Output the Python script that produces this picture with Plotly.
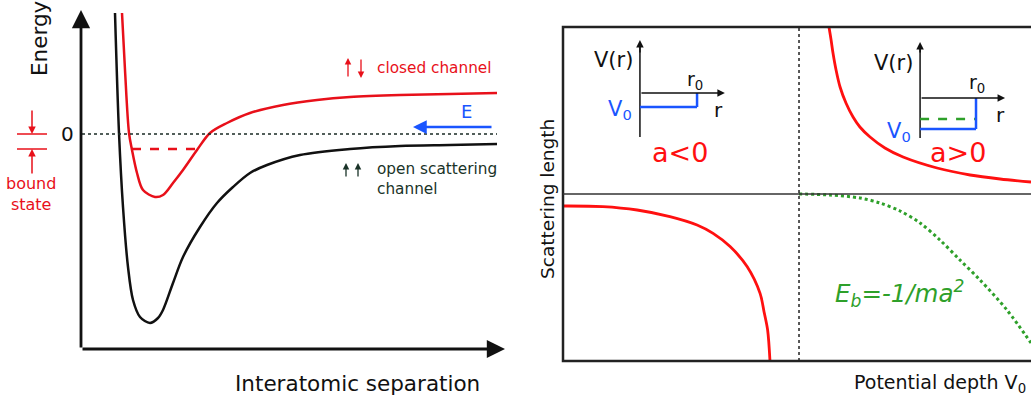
import plotly.graph_objects as go

# ---------------- Left panel data (separation s, energy E; arbitrary units) -------------
open_s = [0.85, 0.95, 1.05, 1.175, 1.3, 1.475, 1.725, 1.925, 2.05, 2.3, 2.55, 2.975, 3.4,
          3.8, 4.225, 4.65, 5.475, 6.725, 7.975, 9.225, 10.4]
open_E = [6.05, 0.05, -3.65, -6.65, -8.3, -9.15, -9.45, -9.2, -8.8, -7.45, -6.15, -4.65, -3.45,
          -2.65, -1.95, -1.55, -1.05, -0.75, -0.6, -0.55, -0.5]

closed_s = [1.025, 1.1, 1.2, 1.275, 1.4, 1.55, 1.85, 2.05, 2.3, 2.55, 2.9, 3.225, 3.65,
            4.225, 5.05, 5.9, 6.725, 7.975, 9.225, 10.4]
closed_E = [6.05, 3.2, 0.05, -0.8, -1.95, -2.8, -3.15, -3.05, -2.45, -1.8, -0.8, 0.05, 0.55,
            1.05, 1.45, 1.7, 1.85, 1.95, 2.0, 2.05]

bound_s = [1.275, 2.9]
bound_E = [-0.75, -0.75]

# ---------------- Right panel data (potential depth d, scattering length a) -------------
aneg_d = [0.0, 0.169, 0.314, 0.453, 0.568, 0.636, 0.708, 0.78, 0.835, 0.852, 0.867, 0.877]
aneg_a = [-0.6, -0.63, -0.8, -1.13, -1.55, -1.97, -2.63, -3.63, -4.97, -5.9, -6.8, -8.35]

apos_d = [1.127, 1.136, 1.144, 1.157, 1.174, 1.199, 1.229, 1.258, 1.301, 1.364, 1.441,
          1.585, 1.725, 1.852, 1.983]
apos_a = [8.35, 7.7, 7.05, 6.2, 5.35, 4.55, 3.85, 3.35, 2.85, 2.3, 1.85,
          1.3, 0.95, 0.75, 0.6]

eb_d = [1.0, 1.131, 1.258, 1.343, 1.428, 1.513, 1.597, 1.682, 1.767, 1.881, 1.983]
eb_a = [0.0, -0.05, -0.2, -0.45, -0.85, -1.45, -2.3, -3.3, -4.3, -5.8, -7.45]

FONT = "DejaVu Sans"
RED = "#e8101a"
RED2 = "#ff1010"
BLUE = "#1a55ff"
GREEN = "#2ea02a"
DARK = "#1a3328"

fig = go.Figure()

# left traces
fig.add_trace(go.Scatter(x=open_s, y=open_E, mode="lines", line=dict(color="#111", width=2.5, shape="spline", smoothing=0.9),
                         xaxis="x", yaxis="y", hoverinfo="skip"))
fig.add_trace(go.Scatter(x=closed_s, y=closed_E, mode="lines", line=dict(color=RED, width=2.5, shape="spline", smoothing=0.9),
                         xaxis="x", yaxis="y", hoverinfo="skip"))
fig.add_trace(go.Scatter(x=bound_s, y=bound_E, mode="lines", line=dict(color=RED, width=2.5, dash="dash"),
                         xaxis="x", yaxis="y", hoverinfo="skip"))

# right traces
fig.add_trace(go.Scatter(x=aneg_d, y=aneg_a, mode="lines", line=dict(color=RED2, width=2.8, shape="spline", smoothing=0.9),
                         xaxis="x2", yaxis="y2", hoverinfo="skip"))
fig.add_trace(go.Scatter(x=apos_d, y=apos_a, mode="lines", line=dict(color=RED2, width=2.8, shape="spline", smoothing=0.9),
                         xaxis="x2", yaxis="y2", hoverinfo="skip"))
fig.add_trace(go.Scatter(x=eb_d, y=eb_a, mode="lines", line=dict(color=GREEN, width=3, dash="dot", shape="spline", smoothing=0.9),
                         xaxis="x2", yaxis="y2", hoverinfo="skip"))

shapes = []
ann = []

def line(x0, y0, x1, y1, ax="", color="#111", width=1.5, dash="solid"):
    shapes.append(dict(type="line", xref="x" + ax, yref="y" + ax, x0=x0, y0=y0, x1=x1, y1=y1,
                       line=dict(color=color, width=width, dash=dash)))

def arrow(xh, yh, xt, yt, ax="", color="#111", width=2.5, size=1.0, head=2):
    ann.append(dict(x=xh, y=yh, ax=xt, ay=yt, xref="x" + ax, yref="y" + ax, axref="x" + ax, ayref="y" + ax,
                    showarrow=True, arrowhead=head, arrowsize=size, arrowwidth=width, arrowcolor=color,
                    standoff=0, startstandoff=0, text=""))

def text(x, y, t, ax="", color="#111", size=14, angle=0, xanchor="center", align="center"):
    ann.append(dict(x=x, y=y, xref="x" + ax, yref="y" + ax, text=t, showarrow=False, textangle=angle,
                    xanchor=xanchor, yanchor="middle", align=align,
                    font=dict(family=FONT, size=size, color=color)))

# ---- left panel decorations ----
line(0.025, 0, 10.4, 0, color="#1a2a24", width=1.4, dash="dot")
arrow(0, 6.2, 0, -10.75, width=2.8, size=1.3)
arrow(10.6, -10.75, 0, -10.75, width=2.8, size=1.3)
line(-1.6, 0, -0.85, 0, color=RED, width=1.5)
line(-1.6, -0.75, -0.85, -0.75, color=RED, width=1.5)
arrow(-1.225, 0, -1.225, 1.25, color=RED, width=1.5, size=1.0)
arrow(-1.225, -0.75, -1.225, -2.05, color=RED, width=1.5, size=1.0)
text(-1.25, -3.0, "bound<br>state", color=RED, size=16)
text(-1.05, 4.8, "Energy", size=21.5, angle=-90)
text(-0.35, 0, "0", size=20)
arrow(6.675, 3.8, 6.675, 2.8, color=RED, width=1.3, size=1.0)
arrow(7.0, 2.8, 7.0, 3.8, color=RED, width=1.3, size=1.0)
text(7.35, 3.3, "closed channel", color=RED, size=15.3, xanchor="left")
arrow(8.3, 0.35, 10.3, 0.35, color=BLUE, width=2.5, size=1.1)
text(9.625, 1.15, "E", color=BLUE, size=18)
arrow(6.625, -1.45, 6.625, -2.2, color=DARK, width=1.3, size=1.0)
arrow(6.925, -1.45, 6.925, -2.2, color=DARK, width=1.3, size=1.0)
text(7.35, -2.25, "open scattering<br>channel", color=DARK, size=15.3, xanchor="left", align="left")
text(6.9, -12.45, "Interatomic separation", size=21.5)

# ---- right panel decorations ----
shapes.append(dict(type="rect", xref="x2", yref="y2", x0=0, y0=-8.35, x1=2.2, y1=8.35,
                   line=dict(color="#222", width=2.5)))
line(0, 0, 2.2, 0, ax="2", color="#333", width=1.5)
line(1, -8.35, 1, 8.35, ax="2", color="#222", width=1.5, dash="dot")

# inset a<0
line(0.326, 2.85, 0.326, 7.5, ax="2", width=1.5)
arrow(0.326, 7.7, 0.326, 7.0, ax="2", width=1.5, size=1.0)
arrow(0.686, 5.05, 0.326, 5.05, ax="2", width=1.5, size=1.0)
line(0.326, 4.35, 0.568, 4.35, ax="2", color=BLUE, width=2.5)
line(0.568, 4.35, 0.568, 5.05, ax="2", color=BLUE, width=2.5)
text(0.215, 6.7, "V(r)", ax="2", size=21)
text(0.559, 5.7, "r<sub>0</sub>", ax="2", size=19)
text(0.657, 4.2, "r", ax="2", size=20)
text(0.24, 4.2, "V<sub>0</sub>", ax="2", color=BLUE, size=21)
text(0.496, 2.1, "a<0", ax="2", color=RED2, size=27)

# inset a>0
line(1.513, 2.8, 1.513, 7.4, ax="2", width=1.5)
arrow(1.513, 7.6, 1.513, 7.0, ax="2", width=1.5, size=1.0)
arrow(1.873, 4.8, 1.513, 4.8, ax="2", width=1.5, size=1.0)
line(1.513, 3.75, 1.75, 3.75, ax="2", color=GREEN, width=2.5, dash="dash")
line(1.513, 3.25, 1.75, 3.25, ax="2", color=BLUE, width=2.5)
line(1.75, 3.25, 1.75, 4.8, ax="2", color=BLUE, width=2.5)
text(1.402, 6.55, "V(r)", ax="2", size=21)
text(1.754, 5.55, "r<sub>0</sub>", ax="2", size=19)
text(1.852, 3.95, "r", ax="2", size=20)
text(1.425, 3.1, "V<sub>0</sub>", ax="2", color=BLUE, size=21)
text(1.674, 2.1, "a>0", ax="2", color=RED2, size=27)

text(1.424, -4.95, "<i>E<sub>b</sub>=-1/ma<sup>2</sup></i>", ax="2", color=GREEN, size=24.5)
text(-0.068, -0.25, "Scattering length", ax="2", size=18.5, angle=-90)
text(1.597, -9.45, "Potential depth V<sub>0</sub>", ax="2", size=19)

hidden = dict(showgrid=False, zeroline=False, showticklabels=False, ticks="", showline=False, fixedrange=True)

fig.update_layout(
    width=1031, height=400,
    margin=dict(l=0, r=0, t=0, b=0),
    paper_bgcolor="white", plot_bgcolor="rgba(0,0,0,0)",
    showlegend=False,
    xaxis=dict(domain=[0, 505 / 1031], range=[-2.025, 10.6], **hidden),
    yaxis=dict(domain=[0, 1], range=[-13.3, 6.7], **hidden),
    xaxis2=dict(domain=[515 / 1031, 1], range=[-0.2034, 1.983], anchor="y2", **hidden),
    yaxis2=dict(domain=[0, 1], range=[-10.3, 9.7], anchor="x2", **hidden),
    shapes=shapes,
    annotations=ann,
)

fig.write_html("out.html", config={"displayModeBar": False},
               post_script="document.body.style.margin='0px';document.body.style.overflow='hidden';")
